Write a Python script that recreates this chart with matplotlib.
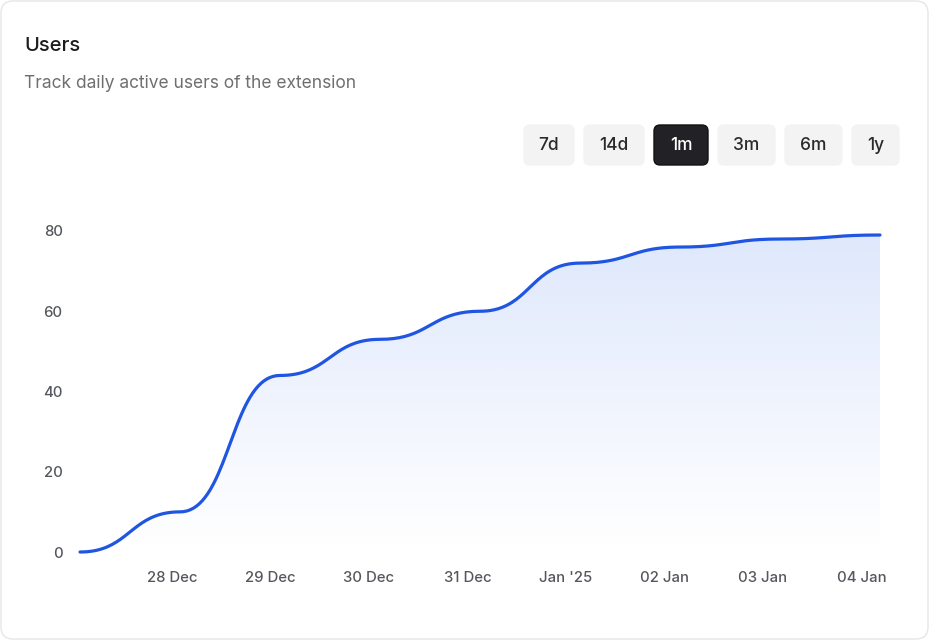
import numpy as np
import matplotlib
matplotlib.use("Agg")
import matplotlib.pyplot as plt
from matplotlib.patches import FancyBboxPatch
from matplotlib.colors import to_rgb

plt.rcParams['font.family'] = ['Inter', 'DejaVu Sans']

# dữ liệu
days = [0, 1, 2, 3, 4, 5, 6, 7, 8]
users = [0, 10, 44, 53, 60, 72, 76, 78, 79]
tick_labels = ["28 Dec", "29 Dec", "30 Dec", "31 Dec", "Jan '25", "02 Jan", "03 Jan", "04 Jan"]
y_ticks = [0, 20, 40, 60, 80]
ranges = ["7d", "14d", "1m", "3m", "6m", "1y"]
active_range = "1m"

W, H = 930, 640
LINE = '#1f55e0'


# đường cong kiểu "bump": tiếp tuyến nằm ngang tại mỗi điểm
def bump_curve(x, y, n=40):
    xs, ys = [], []
    for i in range(len(x) - 1):
        x0, x1, y0, y1 = x[i], x[i + 1], y[i], y[i + 1]
        xm = (x0 + x1) / 2
        u = np.linspace(0, 1, n, endpoint=(i == len(x) - 2))
        b0 = (1 - u)**3
        b1 = 3 * u * (1 - u)**2
        b2 = 3 * u**2 * (1 - u)
        b3 = u**3
        xs.append(b0 * x0 + b1 * xm + b2 * xm + b3 * x1)
        ys.append(b0 * y0 + b1 * y0 + b2 * y1 + b3 * y1)
    return np.concatenate(xs), np.concatenate(ys)


def fx(px):
    return px / W


def fy(py):
    return 1 - py / H


fig = plt.figure(figsize=(W / 100, H / 100), dpi=100)
fig.patch.set_facecolor('white')

# khung thẻ
card = FancyBboxPatch((fx(1), fy(639)), fx(927), 638 / H,
                      boxstyle="round,pad=0,rounding_size=0.013",
                      transform=fig.transFigure, facecolor='white',
                      edgecolor='#e6e6e6', linewidth=1.0, mutation_aspect=W / H, zorder=-5)
fig.patches.append(card)

fig.text(fx(24), fy(46), "Users", fontsize=14.5, fontweight='medium', color='#1c1c1c',
         va='center', ha='left')
fig.text(fx(24), fy(83.5), "Track daily active users of the extension", fontsize=12.5,
         color='#6f6f6f', va='center', ha='left')

# nút chọn khoảng thời gian
btn_x = [524, 584, 654, 718, 785, 852]
btn_w = [50, 60, 54, 57, 57, 47]
for lab, bx, bw in zip(ranges, btn_x, btn_w):
    on = lab == active_range
    p = FancyBboxPatch((fx(bx), fy(165)), fx(bw), 40 / H,
                       boxstyle="round,pad=0,rounding_size=0.0065",
                       transform=fig.transFigure, mutation_aspect=W / H,
                       facecolor='#222226' if on else '#f3f3f3',
                       edgecolor='#111111' if on else '#f3f3f3', linewidth=1.0, zorder=2)
    fig.patches.append(p)
    fig.text(fx(bx + bw / 2), fy(145.5), lab, fontsize=12.5, fontweight='medium',
             color='white' if on else '#2a2a2a', ha='center', va='center', zorder=3)

ax = fig.add_axes([fx(80), fy(552), fx(800), (552 - 231) / H])
ax.set_zorder(1)
ax.set_xlim(0, 8)
ax.set_ylim(0, 80)

cx, cy = bump_curve(days, users)

# nền gradient
r, g, b = to_rgb('#2563eb')
grad = np.zeros((256, 2, 4))
grad[..., 0], grad[..., 1], grad[..., 2] = r, g, b
a = np.linspace(0.0, 0.15, 256)
grad[..., 3] = a[:, None]
im = ax.imshow(grad, extent=[0, 8, 0, max(users)], origin='lower', aspect='auto', zorder=1)
poly = ax.fill_between(cx, 0, cy, facecolor='none', edgecolor='none')
im.set_clip_path(poly.get_paths()[0], transform=ax.transData)

ax.plot(cx, cy, color=LINE, lw=2.3, solid_capstyle='round', zorder=3, clip_on=False)

ax.set_xticks(0.92 + 0.985 * np.arange(len(tick_labels)))
ax.set_xticklabels(tick_labels, fontweight='medium')
ax.set_yticks(y_ticks)
ax.set_yticklabels([str(v) for v in y_ticks], fontweight='medium')
ax.tick_params(axis='x', length=0, pad=14, labelsize=10.7, labelcolor='#55575e')
ax.tick_params(axis='y', length=0, pad=12.5, labelsize=10.7, labelcolor='#55575e')
for sp in ax.spines.values():
    sp.set_visible(False)
ax.set_facecolor('none')
ax.set_xlim(0, 8)
ax.set_ylim(0, 80)

fig.savefig("out.png", dpi=100, facecolor='white')
